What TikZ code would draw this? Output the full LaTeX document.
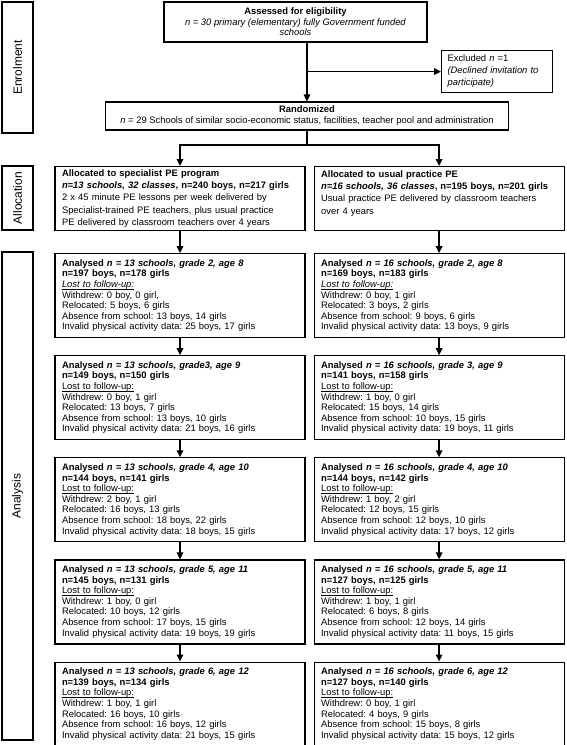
\documentclass[tikz,border=0pt]{standalone}
\usepackage{fontspec}
\setmainfont{Liberation Sans}
\frenchspacing
\usetikzlibrary{arrows.meta, positioning}
\newsavebox\lostbox
\newcommand\lostline[1]{\leavevmode\sbox\lostbox{#1}\rlap{\rule[-1.6pt]{\wd\lostbox}{0.5pt}}\usebox\lostbox}
\tikzset{
    box/.style={draw, line width=1.1pt, inner xsep=7pt, inner ysep=2pt, font=\fontsize{9.4}{10.6}\selectfont},
    colbox/.style={box, text width=236pt, align=left, minimum height=84pt},
    phase/.style={draw, line width=1.1pt, minimum height=31pt, rotate=90, font=\fontsize{12}{14}\selectfont},
    flow/.style={->, line width=1.6pt}
}

\begin{document}
\begin{tikzpicture}[x=1pt, y=-1pt, >={Triangle[length=7pt, width=6.5pt]}]
        \useasboundingbox (0,0) rectangle (567,745);

        % Fases
        \node[phase, minimum width=131pt] (enrol) at (17.5,67.5) {Enrolment};
        \node[phase, minimum width=64pt] (alloc) at (17.5,198) {Allocation};
        \node[phase, minimum width=488pt] (anal) at (17.5,496) {Analysis};

        % Reclutamiento
        \coordinate (split) at (307,145);
        \node[box, align=center, minimum width=263pt, minimum height=40pt] (assess) at (295.5,22)
            {\textbf{Assessed for eligibility}\\ \textit{n = 30 primary (elementary) fully Government funded}\\ \textit{schools}};
        \node[box, align=left, text width=99pt, inner xsep=6pt, minimum height=42pt, anchor=north west,
              font=\fontsize{9.4}{12}\selectfont] (excl) at (441,50)
            {Excluded \textit{n} =1\\ \textit{(Declined invitation to}\\ \textit{participate)}};
        \node[box, align=center, minimum width=403pt, minimum height=28pt, inner ysep=1pt,
              font=\fontsize{9.4}{11}\selectfont] (rand) at (307,116)
            {\textbf{Randomized}\\ \textit{n} = 29 Schools of similar socio-economic status, facilities, teacher pool and administration};

        % Asignacion
        \node[colbox, minimum height=64pt, anchor=north, font=\fontsize{9.4}{12.3}\selectfont] (spec) at (180,166)
            {\textbf{Allocated to specialist PE program}\\
             \textbf{\textit{n=13 schools, 32 classes}, n=240 boys, n=217 girls}\\
             2 x 45 minute PE lessons per week delivered by\\
             Specialist-trained PE teachers, plus usual practice\\
             PE delivered by classroom teachers over 4 years};
        \node[colbox, minimum height=64pt, right=8pt of spec, font=\fontsize{9.4}{12.3}\selectfont] (usual)
            {\textbf{Allocated to usual practice PE}\\
             \textbf{\textit{n=16 schools, 36 classes}, n=195 boys, n=201 girls}\\
             Usual practice PE delivered by classroom teachers\\
             over 4 years\\ \mbox{}};

        % Analisis, columna izquierda
        \node[colbox, below=22pt of spec] (l1)
            {\textbf{Analysed \textit{n = 13 schools, grade 2, age 8}}\\
             \textbf{n=197 boys, n=178 girls}\\
             \lostline{\textit{Lost to follow-up:}}\\
             Withdrew: 0 boy, 0 girl,\\
             Relocated: 5 boys, 6 girls\\
             Absence from school: 13 boys, 14 girls\\
             Invalid physical activity data: 25 boys, 17 girls};
        \node[colbox, below=17pt of l1] (l2)
            {\textbf{Analysed \textit{n = 13 schools, grade3, age 9}}\\
             \textbf{n=149 boys, n=150 girls}\\
             \lostline{Lost to follow-up:}\\
             Withdrew: 0 boy, 1 girl\\
             Relocated: 13 boys, 7 girls\\
             Absence from school: 13 boys, 10 girls\\
             Invalid physical activity data: 21 boys, 16 girls};
        \node[colbox, below=17pt of l2] (l3)
            {\textbf{Analysed \textit{n = 13 schools, grade 4, age 10}}\\
             \textbf{n=144 boys, n=141 girls}\\
             \lostline{Lost to follow-up:}\\
             Withdrew: 2 boy, 1 girl\\
             Relocated: 16 boys, 13 girls\\
             Absence from school: 18 boys, 22 girls\\
             Invalid physical activity data: 18 boys, 15 girls};
        \node[colbox, below=17pt of l3] (l4)
            {\textbf{Analysed \textit{n = 13 schools, grade 5, age 11}}\\
             \textbf{n=145 boys, n=131 girls}\\
             \lostline{Lost to follow-up:}\\
             Withdrew: 1 boy, 0 girl\\
             Relocated: 10 boys, 12 girls\\
             Absence from school: 17 boys, 15 girls\\
             Invalid physical activity data: 19 boys, 19 girls};
        \node[colbox, below=17pt of l4] (l5)
            {\textbf{Analysed \textit{n = 13 schools, grade 6, age 12}}\\
             \textbf{n=139 boys, n=134 girls}\\
             \lostline{Lost to follow-up:}\\
             Withdrew: 1 boy, 1 girl\\
             Relocated: 16 boys, 10 girls\\
             Absence from school: 16 boys, 12 girls\\
             Invalid physical activity data: 21 boys, 15 girls};

        % Analisis, columna derecha
        \node[colbox, right=8pt of l1] (r1)
            {\textbf{Analysed \textit{n = 16 schools, grade 2, age 8}}\\
             \textbf{n=169 boys, n=183 girls}\\
             \lostline{\textit{Lost to follow-up:}}\\
             Withdrew: 0 boy, 1 girl\\
             Relocated: 3 boys, 2 girls\\
             Absence from school: 9 boys, 6 girls\\
             Invalid physical activity data: 13 boys, 9 girls};
        \node[colbox, right=8pt of l2] (r2)
            {\textbf{Analysed \textit{n = 16 schools, grade 3, age 9}}\\
             \textbf{n=141 boys, n=158 girls}\\
             \lostline{Lost to follow-up:}\\
             Withdrew: 1 boy, 0 girl\\
             Relocated: 15 boys, 14 girls\\
             Absence from school: 10 boys, 15 girls\\
             Invalid physical activity data: 19 boys, 11 girls};
        \node[colbox, right=8pt of l3] (r3)
            {\textbf{Analysed \textit{n = 16 schools, grade 4, age 10}}\\
             \textbf{n=144 boys, n=142 girls}\\
             \lostline{Lost to follow-up:}\\
             Withdrew: 1 boy, 2 girl\\
             Relocated: 12 boys, 15 girls\\
             Absence from school: 12 boys, 10 girls\\
             Invalid physical activity data: 17 boys, 12 girls};
        \node[colbox, right=8pt of l4] (r4)
            {\textbf{Analysed \textit{n = 16 schools, grade 5, age 11}}\\
             \textbf{n=127 boys, n=125 girls}\\
             \lostline{Lost to follow-up:}\\
             Withdrew: 1 boy, 1 girl\\
             Relocated: 6 boys, 8 girls\\
             Absence from school: 12 boys, 14 girls\\
             Invalid physical activity data: 11 boys, 15 girls};
        \node[colbox, right=8pt of l5] (r5)
            {\textbf{Analysed \textit{n = 16 schools, grade 6, age 12}}\\
             \textbf{n=127 boys, n=140 girls}\\
             \lostline{Lost to follow-up:}\\
             Withdrew: 0 boy, 1 girl\\
             Relocated: 4 boys, 9 girls\\
             Absence from school: 15 boys, 8 girls\\
             Invalid physical activity data: 15 boys, 12 girls};

        % Conexiones
        \draw[flow] (assess.south -| split) -- (rand.north -| split);
        \draw[flow] (excl.west -| split) -- (excl.west);
        \draw[line width=1.6pt] (rand.south -| split) -- (split);
        \draw[flow] (split) -| (spec.north);
        \draw[flow] (split) -| (usual.north);
        \path[flow] (spec) edge (l1);
        \path[flow] (l1) edge (l2);
        \path[flow] (l2) edge (l3);
        \path[flow] (l3) edge (l4);
        \path[flow] (l4) edge (l5);
        \path[flow] (usual) edge (r1);
        \path[flow] (r1) edge (r2);
        \path[flow] (r2) edge (r3);
        \path[flow] (r3) edge (r4);
        \path[flow] (r4) edge (r5);
    \end{tikzpicture}
\end{document}
